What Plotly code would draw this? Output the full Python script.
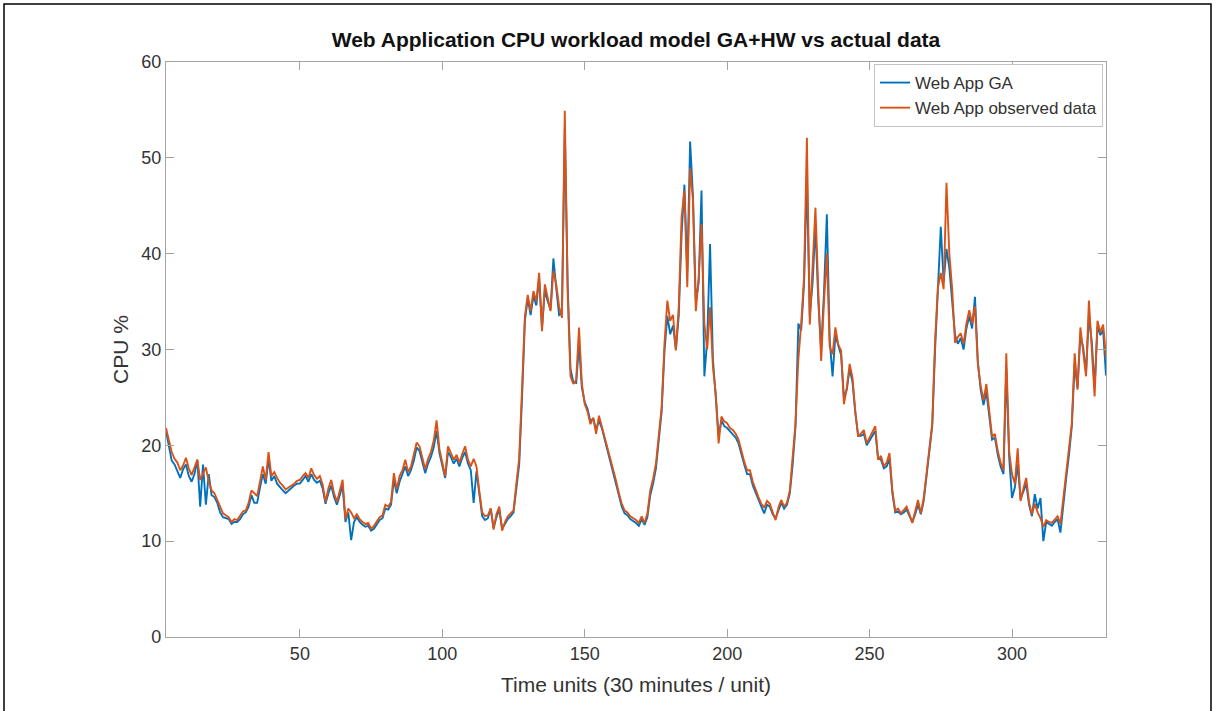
import plotly.graph_objects as go

# Time index (30-minute units)
time_units = list(range(3, 334))

# Model output (GA + Holt-Winters)
cpu_ga = [
    21.5, 20.0, 18.4, 18.0, 17.2, 16.6, 17.5, 18.0, 16.8, 16.2,
    17.0, 18.5, 13.6, 18.0, 13.8, 17.0, 14.8, 14.6, 14.0, 13.0,
    12.5, 12.4, 12.3, 11.8, 12.0, 12.0, 12.3, 12.8, 13.0, 13.6,
    14.8, 14.0, 14.0, 15.6, 17.0, 16.0, 18.6, 16.3, 16.8, 16.0,
    15.6, 15.3, 15.0, 15.3, 15.5, 15.8, 16.0, 16.0, 16.4, 16.8,
    16.2, 17.0, 16.4, 16.1, 16.3, 15.5, 13.9, 15.0, 15.8, 14.6,
    13.8, 14.8, 15.8, 12.0, 13.0, 10.1, 12.0, 12.5, 12.0, 11.7,
    11.5, 11.6, 11.1, 11.3, 11.7, 12.2, 12.4, 13.4, 13.3, 13.8,
    16.4, 15.0, 16.2, 16.9, 17.8, 16.8, 17.4, 18.4, 19.8, 19.4,
    18.3, 17.1, 18.1, 18.8, 19.8, 21.5, 19.2, 17.8, 16.6, 19.3,
    18.8, 18.1, 18.6, 17.8, 18.7, 19.3, 18.1, 17.4, 14.0, 17.3,
    14.6, 12.6, 12.2, 12.4, 13.4, 11.4, 12.5, 13.3, 11.3, 11.8,
    12.3, 12.6, 13.0, 15.5, 18.0, 25.0, 33.0, 35.3, 33.6, 35.6,
    34.6, 37.4, 32.3, 36.2, 35.0, 34.2, 39.5, 36.4, 33.6, 33.8,
    53.0, 36.8, 28.0, 26.6, 26.5, 30.5, 26.0, 24.5, 23.8, 22.5,
    22.8, 21.6, 22.6, 21.8, 20.6, 19.4, 18.4, 17.0, 16.0, 14.6,
    13.6, 12.9, 12.7, 12.3, 12.1, 11.9, 11.6, 12.3, 11.7, 12.5,
    14.8, 16.0, 17.6, 20.5, 23.5, 29.8, 33.5, 31.6, 32.5, 30.0,
    33.5, 42.0, 47.2, 38.0, 51.7, 46.0, 35.0, 37.0, 46.6, 27.2,
    31.0, 41.0, 29.0, 25.0, 21.0, 22.6, 22.0, 21.8, 21.5, 21.2,
    20.8, 20.2, 19.0, 18.0, 17.0, 17.0, 15.8, 15.0, 14.2, 13.6,
    12.9, 13.8, 13.6, 12.8, 12.4, 13.2, 14.0, 13.4, 13.8, 15.0,
    18.0, 22.0, 32.7, 32.0, 37.0, 48.0, 33.5, 37.0, 43.0, 35.0,
    30.0, 36.0, 44.1, 31.0, 27.2, 31.5, 30.5, 29.4, 25.0, 25.8,
    28.0, 26.6, 23.4, 21.0, 21.0, 21.2, 20.0, 20.5, 21.0, 21.5,
    18.6, 18.5, 17.6, 17.8, 18.6, 15.0, 13.0, 13.1, 12.8, 13.0,
    13.3, 12.6, 12.0, 12.8, 13.8, 12.8, 14.2, 16.8, 19.6, 22.0,
    30.0, 36.0, 42.8, 37.0, 40.5, 38.5, 35.0, 31.5, 30.6, 31.2,
    30.0, 32.2, 33.5, 32.2, 35.5, 28.8, 25.8, 24.2, 25.6, 23.2,
    20.6, 20.8, 19.0, 17.8, 17.0, 28.0, 18.8, 14.5, 15.6, 18.0,
    14.4, 15.2, 16.0, 13.8, 12.6, 14.9, 13.4, 14.5, 10.0, 12.0,
    11.8, 11.6, 12.0, 12.3, 10.9, 14.0, 16.5, 19.0, 22.0, 28.5,
    26.0, 31.5, 30.2, 27.6, 33.5, 30.8, 26.0, 32.4, 31.5, 32.0, 27.3,
]

# Measured CPU utilisation
cpu_observed = [
    21.8, 20.5, 19.3, 18.6, 18.2, 17.4, 17.9, 18.7, 17.6, 16.9,
    17.8, 18.5, 16.4, 17.0, 17.7, 16.2, 15.3, 15.0, 14.3, 13.4,
    12.9, 12.7, 12.5, 12.0, 12.3, 12.2, 12.6, 13.1, 13.2, 14.0,
    15.3, 15.0, 14.7, 16.2, 17.8, 16.4, 19.3, 16.8, 17.2, 16.6,
    16.1, 15.8, 15.4, 15.6, 15.8, 16.0, 16.3, 16.4, 16.8, 17.1,
    16.6, 17.6, 16.9, 16.5, 16.8, 15.9, 14.1, 15.5, 16.4, 15.0,
    14.1, 15.2, 16.4, 12.3, 13.4, 13.0, 12.4, 12.8, 12.3, 12.0,
    11.8, 11.9, 11.3, 11.6, 12.0, 12.5, 12.7, 13.8, 13.6, 14.1,
    17.1, 15.4, 16.8, 17.4, 18.5, 17.2, 17.8, 19.0, 20.3, 19.9,
    18.8, 17.5, 18.6, 19.3, 20.5, 22.6, 19.6, 18.2, 16.8, 19.9,
    19.2, 18.5, 19.0, 18.2, 19.1, 19.9, 18.5, 17.8, 18.6, 17.8,
    15.2, 13.0, 12.6, 12.7, 13.4, 11.2, 12.8, 13.6, 11.1, 12.0,
    12.6, 12.9, 13.2, 16.0, 18.7, 26.0, 33.5, 35.7, 34.0, 36.1,
    35.0, 38.0, 31.9, 36.8, 35.2, 34.0, 38.2, 36.8, 34.5, 33.3,
    54.9, 36.0, 27.2, 26.4, 26.8, 32.3, 26.4, 24.3, 23.5, 22.2,
    22.9, 21.2, 23.1, 22.0, 20.8, 19.6, 18.7, 17.4, 16.3, 15.0,
    13.9, 13.2, 13.0, 12.6, 12.4, 12.2, 11.9, 12.6, 11.9, 12.9,
    15.3, 16.5, 18.1, 21.0, 24.0, 30.6, 35.1, 33.0, 33.6, 29.9,
    34.4, 43.8, 46.6, 36.5, 48.9, 45.6, 34.0, 37.5, 43.1, 32.7,
    30.0, 34.4, 28.2, 25.4, 20.2, 23.0, 22.5, 22.3, 21.8, 21.6,
    21.2, 20.6, 19.4, 18.3, 17.4, 17.4, 16.2, 15.3, 14.6, 13.9,
    13.5, 14.2, 13.9, 13.0, 12.2, 13.5, 14.3, 13.6, 14.0, 15.3,
    18.5, 22.3, 29.0, 32.7, 37.5, 52.1, 32.6, 38.0, 44.8, 36.1,
    28.8, 35.0, 40.0, 30.3, 29.5, 32.3, 30.5, 29.9, 24.3, 26.0,
    28.5, 27.1, 23.5, 20.9, 21.3, 21.6, 20.2, 20.8, 21.5, 22.0,
    18.5, 18.9, 17.8, 18.2, 19.2, 15.3, 13.2, 13.4, 12.9, 13.2,
    13.6, 12.8, 11.9, 13.1, 14.3, 12.9, 14.5, 17.1, 20.0, 22.3,
    31.0, 36.5, 38.0, 36.3, 47.4, 40.0, 36.3, 30.7, 31.3, 31.7,
    30.6, 32.7, 34.1, 32.7, 34.5, 28.5, 26.2, 24.7, 26.4, 23.7,
    20.9, 21.2, 19.4, 18.2, 17.4, 29.6, 19.4, 17.0, 16.0, 19.7,
    14.2, 15.5, 16.6, 14.0, 12.8, 13.9, 13.0, 12.4, 11.5, 12.2,
    12.0, 11.9, 12.3, 12.6, 11.8, 14.5, 17.0, 19.5, 22.3, 29.6,
    25.8, 32.3, 30.0, 27.2, 35.1, 29.9, 25.1, 33.0, 31.8, 32.6, 29.2,
]

x_ticks = [50, 100, 150, 200, 250, 300]
y_ticks = [0, 10, 20, 30, 40, 50, 60]

FONT = "Liberation Sans, Arial, Helvetica, sans-serif"
AXIS_GRAY = "#a3a3a3"
TEXT_GRAY = "#333333"

fig = go.Figure()
fig.add_trace(go.Scatter(
    x=time_units, y=cpu_ga, mode="lines", name="Web App GA",
    line=dict(color="#0072BD", width=1.9),
))
fig.add_trace(go.Scatter(
    x=time_units, y=cpu_observed, mode="lines", name="Web App observed data",
    line=dict(color="#D95319", width=1.9),
))

axis_common = dict(
    showline=True, linecolor=AXIS_GRAY, linewidth=1.2, mirror="allticks",
    ticks="inside", ticklen=8, tickwidth=1, tickcolor=AXIS_GRAY,
    showgrid=False, zeroline=False,
    tickfont=dict(family=FONT, size=18, color=TEXT_GRAY),
)

fig.update_layout(
    width=1216, height=711,
    margin=dict(l=166, r=110, t=62, b=74),
    paper_bgcolor="white", plot_bgcolor="white",
    title=dict(
        text="Web Application CPU workload model GA+HW vs actual data",
        font=dict(family=FONT, size=21, color="#111111", weight="bold"),
        x=0.5, xref="paper", xanchor="center",
        y=1 - 40 / 711, yanchor="middle",
    ),
    xaxis=dict(
        range=[3, 333], tickvals=x_ticks,
        title=dict(text="Time units (30 minutes / unit)", standoff=14,
                   font=dict(family=FONT, size=21, color=TEXT_GRAY)),
        **axis_common,
    ),
    yaxis=dict(
        range=[0, 60], tickvals=y_ticks,
        title=dict(text="CPU %", standoff=6,
                   font=dict(family=FONT, size=21, color=TEXT_GRAY)),
        **axis_common,
    ),
    legend=dict(
        x=0.9968, xanchor="right", y=0.9965, yanchor="top",
        bgcolor="white", bordercolor="#c4c4c4", borderwidth=1,
        font=dict(family=FONT, size=17, color=TEXT_GRAY),
        itemwidth=30, tracegroupgap=0,
    ),
    showlegend=True,
)

# Thin frame around the whole figure
fig.add_shape(
    type="rect", xref="paper", yref="paper",
    x0=(4 - 166) / 940, x1=(1211 - 166) / 940,
    y0=(637 - 715) / 575, y1=(637 - 4) / 575,
    line=dict(color="black", width=1.5), fillcolor="rgba(0,0,0,0)",
    layer="below",
)

fig.write_html("out.html")
